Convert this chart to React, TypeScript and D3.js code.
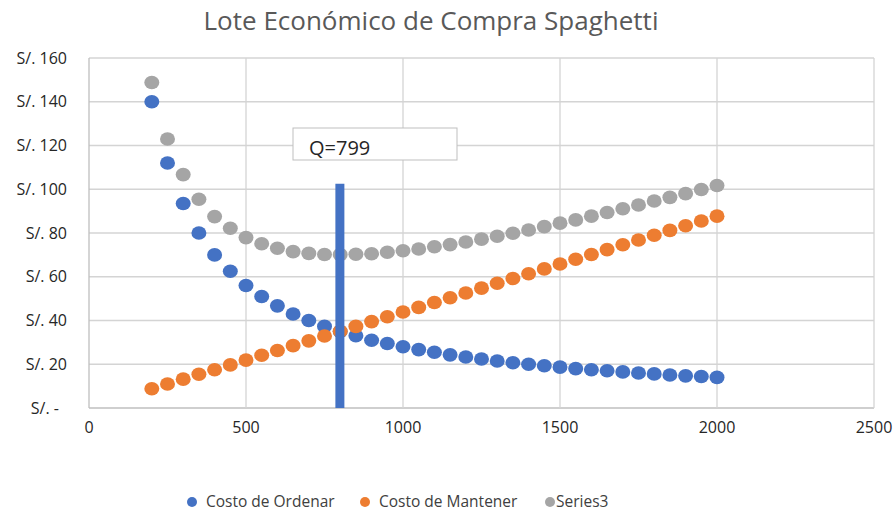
import React from 'react'
import * as d3 from 'd3'

// cantidades de pedido (Q) y costos
const quantities = [
  200, 250, 300, 350, 400, 450, 500, 550, 600, 650, 700, 750, 800, 850, 900, 950, 1000,
  1050, 1100, 1150, 1200, 1250, 1300, 1350, 1400, 1450, 1500, 1550, 1600, 1650, 1700,
  1750, 1800, 1850, 1900, 1950, 2000,
]
const costoOrdenar = [
  140, 112, 93.5, 80, 70, 62.5, 56, 51, 46.7, 43, 40, 37.3, 35, 33, 31, 29.5, 28,
  26.7, 25.5, 24.3, 23.3, 22.4, 21.5, 20.7, 20, 19.3, 18.7, 18, 17.5, 17, 16.5,
  16, 15.6, 15.1, 14.7, 14.4, 14,
]
const costoMantener = [
  8.8, 11, 13.2, 15.4, 17.5, 19.7, 21.9, 24.1, 26.3, 28.5, 30.7, 32.9, 35.1, 37.3, 39.5, 41.7, 43.9,
  46, 48.2, 50.4, 52.6, 54.8, 57, 59.2, 61.4, 63.6, 65.8, 68, 70.2, 72.4, 74.6,
  76.8, 79, 81.2, 83.3, 85.5, 87.7,
]
const series3 = [
  148.8, 123, 106.7, 95.4, 87.5, 82.2, 77.9, 75.1, 73, 71.5, 70.7, 70.2, 70.1, 70.3, 70.5, 71.2, 71.9,
  72.7, 73.7, 74.7, 75.9, 77.2, 78.5, 79.9, 81.4, 82.9, 84.5, 86, 87.7, 89.4, 91.1,
  92.8, 94.6, 96.3, 98, 99.9, 101.7,
]
// línea del lote óptimo
const qOptimo = [
  { x: 799, y: 0 },
  { x: 799, y: 102.5 },
]
const xTicks = [0, 500, 1000, 1500, 2000, 2500]
const yTicks = [0, 20, 40, 60, 80, 100, 120, 140, 160]

const width = 893
const height = 513
const margin = { top: 58, right: 19, bottom: 105, left: 89 }
const font = '"Open Sans", Lato, sans-serif'

const series = [
  { name: 'Costo de Ordenar', values: costoOrdenar, color: '#4472C4' },
  { name: 'Costo de Mantener', values: costoMantener, color: '#ED7D31' },
  { name: 'Series3', values: series3, color: '#A5A5A5' },
]

const App = () => {
  const xScale = d3.scaleLinear().domain([0, 2500]).range([margin.left, width - margin.right])
  const yScale = d3.scaleLinear().domain([0, 160]).range([height - margin.bottom, margin.top])

  const line = d3.line<{ x: number; y: number }>()
    .x(d => xScale(d.x))
    .y(d => yScale(d.y))

  const yLabel = (v: number) => (v === 0 ? 'S/. -' : `S/. ${v}`)

  return (
    <svg width={width} height={height} style={{ position: 'absolute', left: 0, top: 0, background: '#fff' }}>
      <text x={431} y={30} textAnchor="middle" fontFamily={font} fontSize={26} fill="#595959">
        Lote Económico de Compra Spaghetti
      </text>

      {/* grid */}
      {yTicks.map(t => (
        <line key={'gy' + t} x1={xScale(0)} x2={xScale(2500)} y1={yScale(t)} y2={yScale(t)}
          stroke={t === 0 ? '#BFBFBF' : '#D4D4D4'} strokeWidth={1.3} />
      ))}
      {xTicks.map(t => (
        <line key={'gx' + t} x1={xScale(t)} x2={xScale(t)} y1={yScale(0)} y2={yScale(160)}
          stroke={t === 0 ? '#BFBFBF' : '#D4D4D4'} strokeWidth={1.3} />
      ))}

      {/* ejes */}
      {yTicks.map(t => (
        <text key={'ty' + t} x={t === 0 ? 59 : 67} y={yScale(t)} dy="0.35em" textAnchor="end"
          fontFamily={font} fontSize={16} fill="#262626">
          {yLabel(t)}
        </text>
      ))}
      {xTicks.map(t => (
        <text key={'tx' + t} x={xScale(t)} y={427} dy="0.35em" textAnchor="middle"
          fontFamily={font} fontSize={16} fill="#262626">
          {t}
        </text>
      ))}

      {/* series */}
      {series.map(s => (
        <g key={s.name}>
          {s.values.map((v, i) => (
            <ellipse key={i} cx={xScale(quantities[i])} cy={yScale(v)} rx={7.5} ry={6.8} fill={s.color} />
          ))}
        </g>
      ))}

      <path d={line(qOptimo) ?? ''} stroke="#4472C4" strokeWidth={9} fill="none" />

      {/* etiqueta Q */}
      <rect x={293} y={128} width={164} height={32} fill="#fff" stroke="#BFBFBF" strokeWidth={1} />
      <text x={309} y={148} dy="0.35em" fontFamily={font} fontSize={20} fill="#262626">Q=799</text>

      {/* leyenda */}
      <g fontFamily={font} fontSize={15.5} fill="#404040">
        <circle cx={192} cy={502} r={5} fill="#4472C4" />
        <text x={206} y={502} dy="0.35em">Costo de Ordenar</text>
        <circle cx={365} cy={502} r={5} fill="#ED7D31" />
        <text x={379} y={502} dy="0.35em">Costo de Mantener</text>
        <circle cx={550} cy={502} r={5} fill="#A5A5A5" />
        <text x={556} y={502} dy="0.35em">Series3</text>
      </g>
    </svg>
  )
}

export default App
